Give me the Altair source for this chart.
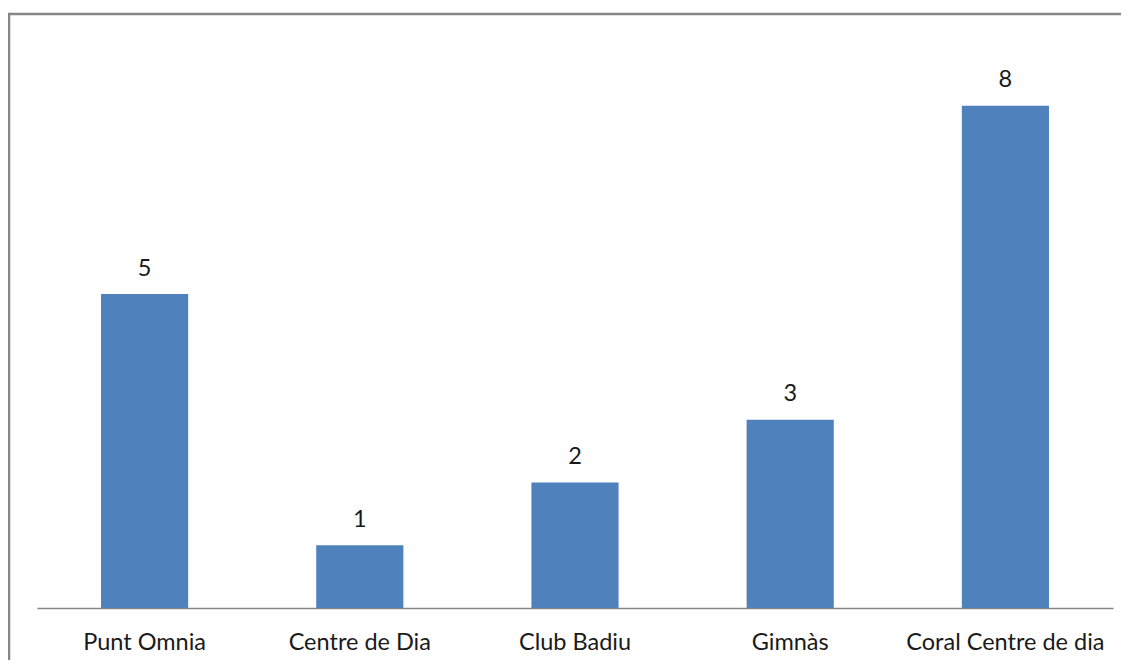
import altair as alt
import pandas as pd

categories = ["Punt Omnia", "Centre de Dia", "Club Badiu", "Gimnàs", "Coral Centre de dia"]
values = [5, 1, 2, 3, 8]

df = pd.DataFrame({"cat": categories, "val": values})

W, H = 1076, 565
FONT = "Lato"

x = alt.X("cat:N", sort=categories, title=None,
          scale=alt.Scale(paddingInner=0.595, paddingOuter=0.2975),
          axis=alt.Axis(labelAngle=0, labelFont=FONT, labelFontSize=23.5, labelColor="#1a1a1a",
                        labelPadding=22, labelLimit=0, ticks=False, domainColor="#868686",
                        domainWidth=1.3, grid=False))
y = alt.Y("val:Q", title=None, scale=alt.Scale(domain=[0, 9], nice=False), axis=None)

bars = alt.Chart(df).mark_bar(color="#4F81BD").encode(x=x, y=y)
text = alt.Chart(df).mark_text(baseline="alphabetic", dy=-18.5, font=FONT, fontSize=23.5, color="#1a1a1a").encode(
    x=alt.X("cat:N", sort=categories), y=y, text="val:Q")

one = pd.DataFrame({"a": [0]})
frame_left = alt.Chart(one).mark_rule(color="#868686", strokeWidth=2.5).encode(
    x=alt.value(-28), y=alt.value(-30), y2=alt.value(H + 52))
frame_top = alt.Chart(one).mark_rule(color="#868686", strokeWidth=2.5).encode(
    x=alt.value(-29), x2=alt.value(W + 8), y=alt.value(-29))

chart = alt.layer(frame_left, frame_top, bars, text).properties(
    width=W, height=H,
    padding={"left": 29, "top": 35, "right": 8, "bottom": 52},
    autosize=alt.AutoSizeParams(type="none"),
).configure_view(stroke=None)

chart.save("out.html", embed_options={"renderer": "svg", "actions": False})
